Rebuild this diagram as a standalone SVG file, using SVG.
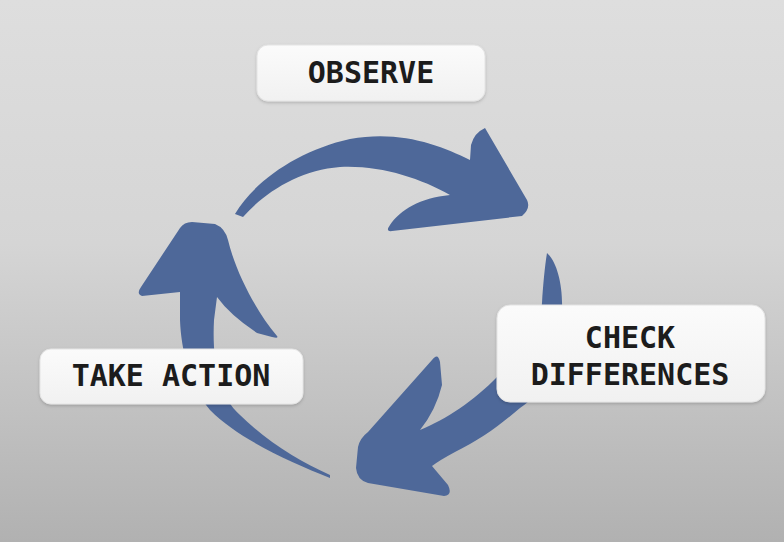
<svg xmlns="http://www.w3.org/2000/svg" width="784" height="542" viewBox="0 0 784 542">
<defs>
<linearGradient id="bg" x1="0" y1="0" x2="0" y2="1">
<stop offset="0" stop-color="#dedede"/>
<stop offset="0.45" stop-color="#d5d5d5"/>
<stop offset="1" stop-color="#b1b1b1"/>
</linearGradient>
<linearGradient id="boxg" x1="0" y1="0" x2="0" y2="1">
<stop offset="0" stop-color="#fbfbfb"/>
<stop offset="1" stop-color="#f1f1f1"/>
</linearGradient>
<filter id="sh" x="-10%" y="-20%" width="120%" height="150%">
<feDropShadow dx="0" dy="1.5" stdDeviation="1.5" flood-color="#000" flood-opacity="0.18"/>
</filter>
</defs>
<style>
.arrow{fill:#4e6899;}
.box{fill:url(#boxg);stroke:#e4e4e4;stroke-width:1;filter:url(#sh);}
.lbl{font-family:"DejaVu Sans Mono","Liberation Mono",monospace;font-weight:bold;font-size:30px;fill:#1c1c1c;text-anchor:middle;}
</style>
<rect x="0" y="0" width="784" height="542" fill="url(#bg)"/>
<g id="connectors">
<path class="arrow" d="M 235,214 C 255,180 300,150 350,139 C 400,130 440,145 470,160 L 471,145 Q 474,133 485,128 L 527,200 Q 531,208 522,216 L 392,231 Q 385,232 390,225 C 400,210 420,198 450,195 C 420,178 380,165 340,167 C 300,170 265,192 243,217 Z"/>
<path class="arrow" d="M 547,253 C 557,262 563,285 562,310 C 560,360 545,392 520,408 C 500,425 480,440 455,452 Q 440,460 432,466 L 448,485 Q 453,495 444,496 L 368,483 Q 357,480 356,468 L 358,447 Q 360,438 368,432 L 432,360 Q 438,352 440,362 L 442,385 Q 436,410 420,430 C 445,420 475,400 497,377 C 520,355 540,330 542,303 C 543,285 545,265 547,253 Z"/>
<path class="arrow" d="M 330,478 C 290,462 240,440 210,410 C 190,385 181,350 180,320 L 180,292 L 142,296 Q 136,294 141,287 L 180,228 Q 184,222 192,222 L 215,224 Q 225,228 228,240 C 235,270 255,310 277,336 Q 279,339 272,337 L 257,333 Q 230,315 217,297 L 214,320 C 212,360 218,395 240,415 C 265,440 300,462 330,475 Z"/>
</g>
<g id="observe">
<rect class="box" x="257" y="45" width="228" height="56" rx="11"/>
<text class="lbl" x="371" y="83">OBSERVE</text>
</g>
<g id="check-differences">
<rect class="box" x="497" y="305" width="268" height="97" rx="13"/>
<text class="lbl" x="630" y="348">CHECK</text>
<text class="lbl" x="630" y="385">DIFFERENCES</text>
</g>
<g id="take-action">
<rect class="box" x="40" y="349" width="263" height="55" rx="11"/>
<text class="lbl" x="171" y="386">TAKE ACTION</text>
</g>
</svg>
